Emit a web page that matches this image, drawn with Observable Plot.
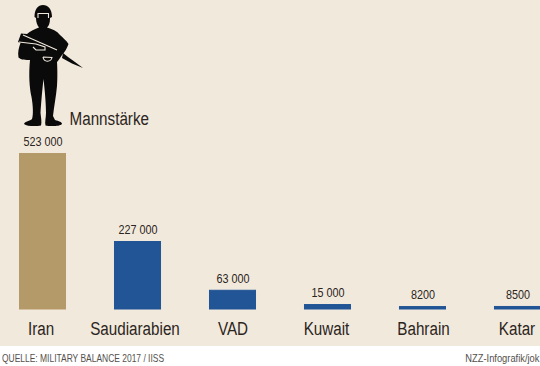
<!DOCTYPE html>
<html><head><meta charset="utf-8">
<script src="https://cdn.jsdelivr.net/npm/d3@7"></script>
<script src="https://cdn.jsdelivr.net/npm/@observablehq/plot@0.6"></script>
<style>
html,body{margin:0;padding:0;background:#fff;}
#foot{position:relative;height:20px;font-family:"Liberation Sans",sans-serif;font-size:11.5px;color:#55504b;line-height:14px;}
#foot span{position:absolute;top:5px;white-space:nowrap;}
#foot .l{left:2px;transform:scaleX(.735);transform-origin:left center;}
#foot .r{right:1px;transform:scaleX(.81);transform-origin:right center;}
svg{display:block}
</style></head><body>
<div id="chart"></div>
<div id="foot"><span class="l">QUELLE: MILITARY BALANCE 2017 / IISS</span><span class="r">NZZ-Infografik/jok</span></div>
<script>
const countries = ["Iran","Saudiarabien","VAD","Kuwait","Bahrain","Katar"];
const troops = [523000,227000,63000,15000,8200,8500];
const barColors = ["#b59a69","#215595","#215595","#215595","#215595","#215595"];
const valueLabels = ["523 000","227 000","63 000","15 000","8200","8500"];
const labelShift = [-2,-3,0,-1.5,0.5,-1];
const table = countries.map((c,i)=>({c,v:troops[i],col:barColors[i],lab:valueLabels[i]}));

const FONT = '"Liberation Sans",sans-serif';
const soldierBody = "M43,5 C48,5 52,9 52,17 L50,18 C50,23 49,26 47,27.5 C52,29 57,31 60,35 C63,38 66,40 68.5,44 C67,48 65,52 62,55 C60,58 58,61 57,62 C57.5,70 57.5,80 57,86 C56,97 54,106 53,116 L55,120 C59,121 62,122 62,124 C60,126.5 50,126.5 45.5,125.5 C44.5,122 46,118 46,113 C46,105 45,92 43.5,79 C42,92 41,105 40.5,113 C41,118 42,122 41,125.5 C36,126.5 27,126.5 24,124 C25,121 30,121 32,119 C33.5,115 33,105 31.5,97 C29.5,88 28.5,75 30,60 C26,60 21,60 18.5,57.5 C17.5,52 19,47 20.5,43 L18,42 L21,33.5 L27,34 C30,31 35,29 39,27.5 C37,25 36,22 36,18 L34.5,17 C34.5,9 38,5 43,5 Z";
const soldierRifle = "M63,53 L68,57 L75,62 L83,68 L72,63.5 L62,58 Z";
const soldierLines = ["M38,18 L38,13.5 L48.5,13.5 L48.5,18","M23,35 L57,50","M19,42 L36,44 L45,47 L45,50 L36,50 L33,47","M43,57 L52,57.5 C51,62 44,63 43,57"];

function soldier(){
  const g = d3.create("svg:g");
  g.append("path").attr("d",soldierBody).attr("fill","#0a0a0a");
  g.append("path").attr("d",soldierRifle).attr("fill","#0a0a0a");
  for (const d of soldierLines) g.append("path").attr("d",d).attr("fill","none").attr("stroke","#f2e9dd").attr("stroke-width",1.1);
  return g.node();
}

const plot = Plot.plot({
  width:540, height:346,
  marginTop:0,marginBottom:0,marginLeft:0,marginRight:0,
  style:{background:"#f2e9dd",fontFamily:FONT,color:"#2b2520"},
  x:{domain:countries,range:[19,541],paddingInner:0.505,paddingOuter:0,align:0,round:false,label:null},
  y:{domain:[0,523000],range:[309,153.5],axis:null},
  marks:[
    Plot.barY(table,{x:"c",y:"v",fill:"col",stroke:"col",strokeWidth:1,insetLeft:0.5,insetRight:0.5}),
    Plot.text(table,{x:"c",y:"v",text:"lab",dy:-12,fontSize:13.5,fill:"#2b2520"}),
    countries.map((c,i)=>Plot.axisX([c],{anchor:"bottom",tickSize:0,tickPadding:-24,fontSize:18,label:null,fill:"#2b2520",dx:labelShift[i]})),
    soldier,
    Plot.text(["Mannstärke"],{frameAnchor:"top-left",dx:69,dy:119,fontSize:18,textAnchor:"start",lineAnchor:"middle",fill:"#2b2520"})
  ]
});
document.getElementById("chart").append(plot);
// condensed lettering: the reference face is a narrow grotesque
d3.select(plot).selectAll("text").each(function(){
  const size = parseFloat(getComputedStyle(this).fontSize);
  const k = size > 15 ? 0.845 : 0.8;
  this.setAttribute("textLength", this.getComputedTextLength()*k);
  this.setAttribute("lengthAdjust","spacingAndGlyphs");
});
</script></body></html>
